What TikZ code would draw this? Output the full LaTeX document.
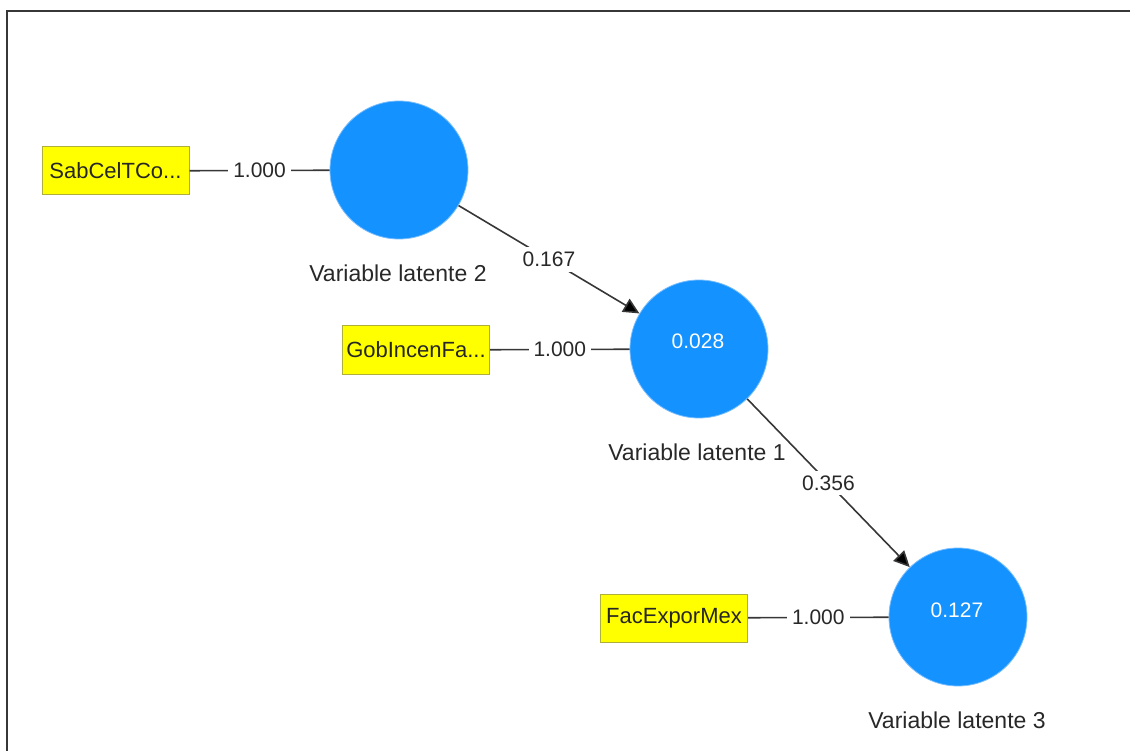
\documentclass[tikz,border=0pt]{standalone}
\usepackage{fontspec}
\setmainfont{Liberation Sans}
\usetikzlibrary{arrows.meta}

\definecolor{lvblue}{RGB}{20,146,255}
\definecolor{lvrim}{RGB}{120,190,255}
\definecolor{mvyellow}{RGB}{255,255,0}
\definecolor{mvrim}{RGB}{175,175,60}
\definecolor{linegray}{RGB}{55,55,55}
\definecolor{txtgray}{RGB}{40,40,40}

\tikzset{
  latent/.style={circle, fill=lvblue, draw=lvrim, line width=0.8pt,
    minimum size=138pt, inner sep=0pt},
  latval/.style={text=white, font=\fontsize{21}{25}\selectfont},
  latname/.style={text=txtgray, font=\fontsize{23}{27}\selectfont},
  manifest/.style={rectangle, fill=mvyellow, draw=mvrim, line width=1pt,
    minimum width=147pt, minimum height=48pt, inner sep=2pt,
    text=black!85, font=\fontsize{22}{26}\selectfont},
  weight/.style={fill=white, inner sep=5pt, text=txtgray,
    font=\fontsize{21}{25}\selectfont},
  loadline/.style={draw=linegray, line width=1.6pt},
  pathline/.style={draw=linegray, line width=1.6pt,
    -{Triangle[length=16pt, width=15pt, fill=black]}},
}

\begin{document}
\begin{tikzpicture}[x=1pt, y=-1pt]
\useasboundingbox (0,0) rectangle (1130,751);
% window frame, cut at right and bottom
\draw[linegray, line width=2pt] (7,751) -- (7,11) -- (1130,11);

% latent variables
\node[latent] (lv2) at (399,170) {};
\node[latent] (lv1) at (699,349) {};
\node[latent] (lv3) at (958,617) {};
\node[latval] (lv1val) at (698,341) {0.028};
\node[latval] (lv3val) at (957,610) {0.127};
\node[latname] (lv2name) at (398,273) {Variable latente 2};
\node[latname] (lv1name) at (697,452) {Variable latente 1};
\node[latname] (lv3name) at (957,720) {Variable latente 3};

% indicators
\node[manifest] (mv2) at (115.5,171) {SabCelTCo...};
\node[manifest] (mv1) at (416,350) {GobIncenFa...};
\node[manifest] (mv3) at (674,618) {FacExporMex};

% loadings
\draw[loadline] (mv2) -- node[weight] {1.000} (lv2);
\draw[loadline] (mv1) -- node[weight] {1.000} (lv1);
\draw[loadline] (mv3) -- node[weight] {1.000} (lv3);

% path coefficients
\draw[pathline] (lv2) -- node[weight] {0.167} (lv1);
\draw[pathline] (lv1) -- node[weight] {0.356} (lv3);
\end{tikzpicture}
\end{document}
